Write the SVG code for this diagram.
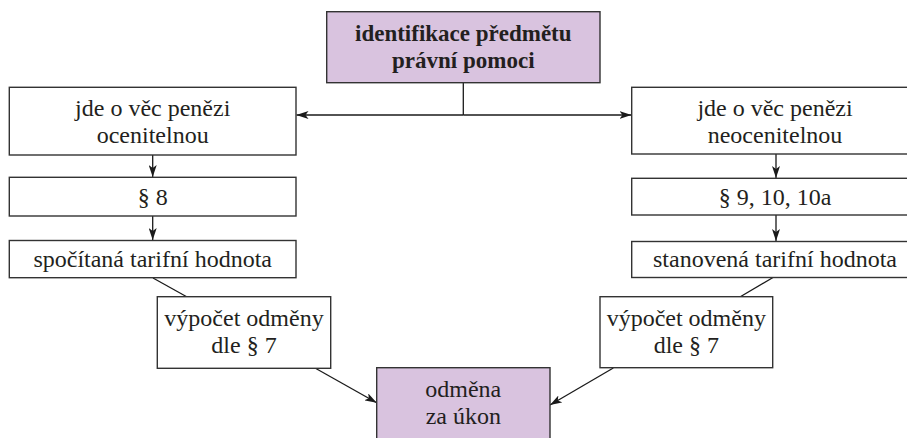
<svg xmlns="http://www.w3.org/2000/svg" width="907" height="438" viewBox="0 0 907 438">
<defs>
<marker id="ah" viewBox="0 0 12 8" refX="12" refY="4" markerWidth="12" markerHeight="8" markerUnits="userSpaceOnUse" orient="auto">
<path d="M0,0 L12,4 L0,8 L3,4 z" fill="#1a1a1a"/>
</marker>
</defs>
<style>
.box{fill:#fff;stroke:#333;stroke-width:1.4}
.hl{fill:#d9c3df;stroke:#333;stroke-width:1.4}
.t{font-family:'Liberation Serif','Times New Roman',serif;font-size:24px;fill:#231f20;text-anchor:middle}
.b{font-weight:bold;font-size:23px}
.c{fill:none;stroke:#1a1a1a;stroke-width:1.3}
</style>
<g id="connectors">
<line class="c" x1="463.3" y1="83" x2="463.3" y2="115"/>
<line class="c" x1="463.3" y1="115" x2="296.5" y2="115" marker-end="url(#ah)"/>
<line class="c" x1="463.3" y1="115" x2="631.5" y2="115" marker-end="url(#ah)"/>
<line class="c" x1="152.7" y1="155" x2="152.7" y2="177" marker-end="url(#ah)"/>
<line class="c" x1="152.7" y1="216" x2="152.7" y2="240" marker-end="url(#ah)"/>
<line class="c" x1="776" y1="154" x2="776" y2="178" marker-end="url(#ah)"/>
<line class="c" x1="776" y1="215" x2="776" y2="241" marker-end="url(#ah)"/>
<line class="c" x1="153" y1="278" x2="186.7" y2="296.7"/>
<line class="c" x1="773" y1="277.5" x2="740.3" y2="296.7"/>
<line class="c" x1="315" y1="368" x2="376.7" y2="402.7" marker-end="url(#ah)"/>
<line class="c" x1="613.3" y1="368" x2="550" y2="405" marker-end="url(#ah)"/>
</g>
<g id="n-top">
<rect class="hl" x="326.7" y="11.7" width="273.3" height="71"/>
<text class="t b" x="463.3" y="41">identifikace předmětu</text>
<text class="t b" x="463.3" y="68">právní pomoci</text>
</g>
<g id="n-l1">
<rect class="box" x="9.3" y="87.3" width="286.7" height="67.7"/>
<text class="t" x="152.7" y="116">jde o věc penězi</text>
<text class="t" x="152.7" y="143">ocenitelnou</text>
</g>
<g id="n-l2">
<rect class="box" x="9.3" y="177.3" width="286.7" height="38.7"/>
<text class="t" x="152.7" y="205">§ 8</text>
</g>
<g id="n-l3">
<rect class="box" x="9.3" y="240.5" width="286.7" height="37.2"/>
<text class="t" x="152.7" y="266.5">spočítaná tarifní hodnota</text>
</g>
<g id="n-l4">
<rect class="box" x="157.3" y="296.7" width="173.4" height="71.6"/>
<text class="t" x="244" y="325.5">výpočet odměny</text>
<text class="t" x="244" y="353">dle § 7</text>
</g>
<g id="n-r1">
<rect class="box" x="631.7" y="87.3" width="287" height="66.7"/>
<text class="t" x="775" y="116">jde o věc penězi</text>
<text class="t" x="775" y="143">neocenitelnou</text>
</g>
<g id="n-r2">
<rect class="box" x="631.7" y="178.3" width="287" height="36.7"/>
<text class="t" x="775" y="205">§ 9, 10, 10a</text>
</g>
<g id="n-r3">
<rect class="box" x="631.7" y="241.5" width="287" height="36"/>
<text class="t" x="775" y="267">stanovená tarifní hodnota</text>
</g>
<g id="n-r4">
<rect class="box" x="600" y="296.7" width="172.7" height="71"/>
<text class="t" x="686.3" y="325.5">výpočet odměny</text>
<text class="t" x="686.3" y="353">dle § 7</text>
</g>
<g id="n-bottom">
<rect class="hl" x="376.7" y="367.7" width="173.3" height="80"/>
<text class="t" x="463.3" y="396.5">odměna</text>
<text class="t" x="463.3" y="423.5">za úkon</text>
</g>
</svg>
